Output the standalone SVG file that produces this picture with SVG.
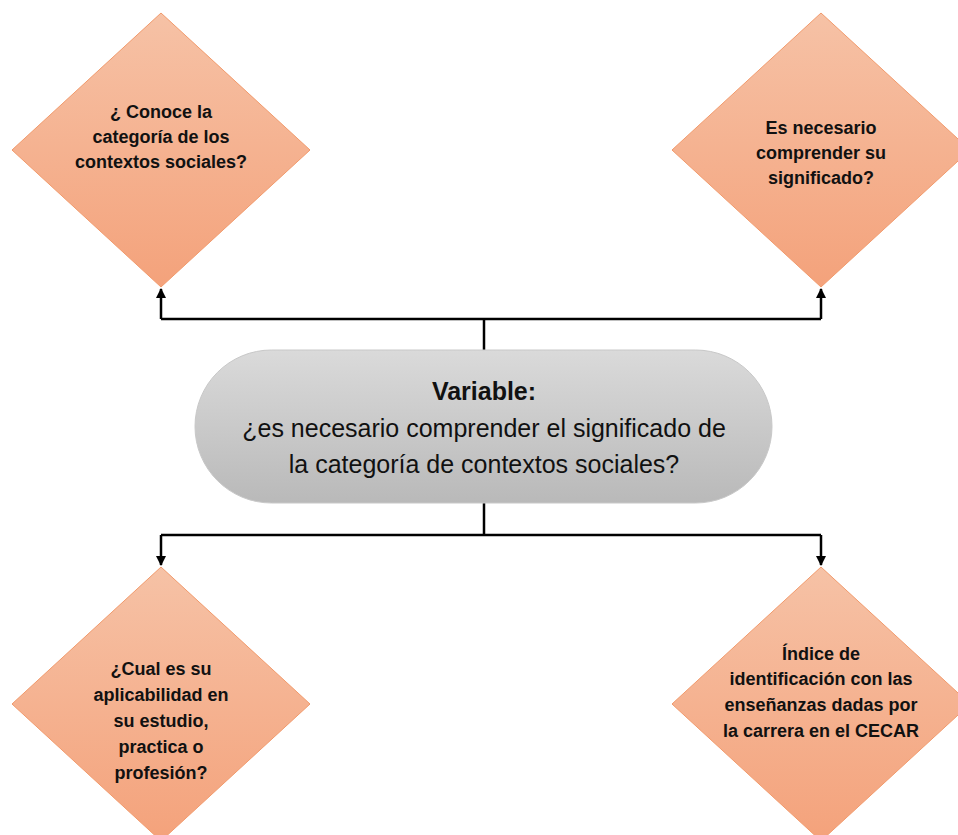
<svg xmlns="http://www.w3.org/2000/svg" width="958" height="835" viewBox="0 0 958 835">
<defs>
<linearGradient id="gOr" x1="0" y1="0" x2="0" y2="1">
<stop offset="0" stop-color="#f6c2a6"/>
<stop offset="1" stop-color="#f4a27b"/>
</linearGradient>
<linearGradient id="gGr" x1="0" y1="0" x2="0" y2="1">
<stop offset="0" stop-color="#dadada"/>
<stop offset="1" stop-color="#b9b9b9"/>
</linearGradient>
<marker id="arr" viewBox="0 0 10 10" refX="9" refY="5" markerWidth="4.5" markerHeight="4" orient="auto" markerUnits="strokeWidth">
<path d="M0,0 L10,5 L0,10 z" fill="#000"/>
</marker>
<style>
.dia{fill:url(#gOr);stroke:#f19a6c;stroke-width:1}
.dt{font-family:"Liberation Sans",Arial,sans-serif;font-weight:bold;font-size:18px;fill:#111;text-anchor:middle}
.ct{font-family:"Liberation Sans",Arial,sans-serif;font-size:25px;fill:#111;text-anchor:middle}
.cn{fill:none;stroke:#000;stroke-width:2.5}
</style>
</defs>
<rect width="958" height="835" fill="#fff"/>
<g id="connectors">
<path class="cn" d="M484,350 V319"/>
<path class="cn" d="M161,319 H821"/>
<path class="cn" d="M161,319 V289" marker-end="url(#arr)"/>
<path class="cn" d="M821,319 V289" marker-end="url(#arr)"/>
<path class="cn" d="M484,503 V535"/>
<path class="cn" d="M161,535 H821"/>
<path class="cn" d="M161,535 V565" marker-end="url(#arr)"/>
<path class="cn" d="M821,535 V565" marker-end="url(#arr)"/>
</g>
<g id="center">
<rect x="195" y="350" width="577" height="153" rx="76.5" fill="url(#gGr)" stroke="#c8c8c8" stroke-width="1"/>
<text class="ct" x="484" y="400" font-weight="bold">Variable:</text>
<text class="ct" x="484" y="437">¿es necesario comprender el significado de</text>
<text class="ct" x="484" y="473">la categoría de contextos sociales?</text>
</g>
<g id="d1">
<polygon class="dia" points="161,13 310,150 161,287 12,150"/>
<text class="dt" x="161" y="118">¿ Conoce la</text>
<text class="dt" x="161" y="143">categoría de los</text>
<text class="dt" x="161" y="168">contextos sociales?</text>
</g>
<g id="d2">
<polygon class="dia" points="821,13 970,150 821,287 672,150"/>
<text class="dt" x="821" y="134">Es necesario</text>
<text class="dt" x="821" y="159">comprender su</text>
<text class="dt" x="821" y="184">significado?</text>
</g>
<g id="d3">
<polygon class="dia" points="161,567 310,704 161,841 12,704"/>
<text class="dt" x="161" y="675">¿Cual es su</text>
<text class="dt" x="161" y="701">aplicabilidad en</text>
<text class="dt" x="161" y="727">su estudio,</text>
<text class="dt" x="161" y="753">practica o</text>
<text class="dt" x="161" y="779">profesión?</text>
</g>
<g id="d4">
<polygon class="dia" points="821,567 970,704 821,841 672,704"/>
<text class="dt" x="821" y="660">Índice de</text>
<text class="dt" x="821" y="685">identificación con las</text>
<text class="dt" x="821" y="711">enseñanzas dadas por</text>
<text class="dt" x="821" y="737">la carrera en el CECAR</text>
</g>
</svg>
